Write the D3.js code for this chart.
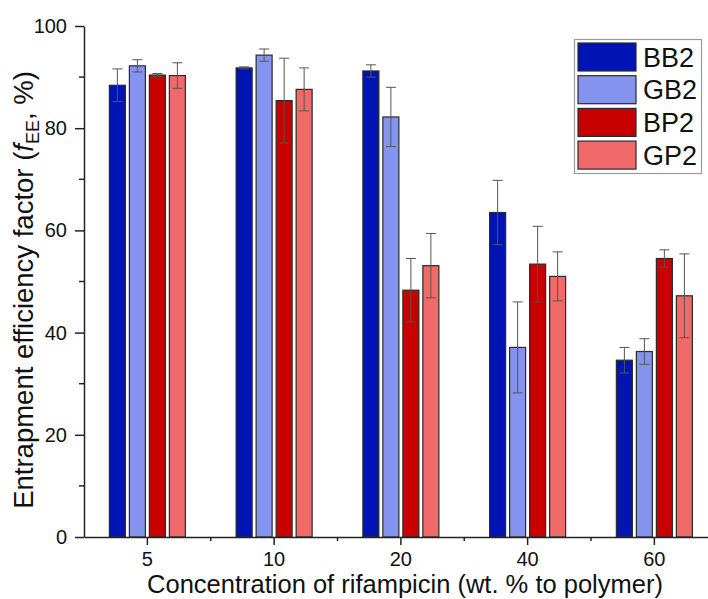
<!DOCTYPE html>
<html>
<head>
<meta charset="utf-8">
<script src="https://cdn.jsdelivr.net/npm/d3@7"></script>
<style>
  html, body { margin: 0; padding: 0; background: #fff; }
  svg { display: block; font-family: "Liberation Sans", Arial, sans-serif; }
</style>
</head>
<body>
<svg id="chart" width="708" height="599"></svg>
<script>
// Rifampicin concentration groups (wt. % to polymer)
const categories = ["5", "10", "20", "40", "60"];
const seriesNames = ["BB2", "GB2", "BP2", "GP2"];
const seriesColors = ["#0014b4", "#8494ee", "#c80000", "#f06a6a"];

// Entrapment efficiency factor (%) per series, one value per concentration
const bb2 = [88.4, 91.8, 91.2, 63.5, 34.6];
const gb2 = [92.2, 94.3, 82.2, 37.1, 36.3];
const bp2 = [90.4, 85.4, 48.3, 53.4, 54.5];
const gp2 = [90.3, 87.6, 53.1, 51.0, 47.2];

// Standard deviations
const bb2Err = [3.2, 0.2, 1.2, 6.3, 2.5];
const gb2Err = [1.2, 1.2, 5.8, 8.9, 2.5];
const bp2Err = [0.3, 8.3, 6.2, 7.4, 1.7];
const gp2Err = [2.5, 4.2, 6.3, 4.8, 8.2];

const yTicks = [0, 20, 40, 60, 80, 100];
const yMinorTicks = [10, 30, 50, 70, 90];

const seriesValues = [bb2, gb2, bp2, gp2];
const seriesErrors = [bb2Err, gb2Err, bp2Err, gp2Err];

const svg = d3.select("#chart");

const plotLeft = 84, plotTop = 26, plotBottom = 537;

const x = d3.scaleBand().domain(categories).range([plotLeft, 717.75]).padding(0);
const xInner = d3.scaleBand().domain(seriesNames).range([-40, 40])
  .paddingInner(0.2).paddingOuter(0.1);
const y = d3.scaleLinear().domain([0, 100]).range([plotBottom, plotTop]);

// Bars
const groups = svg.append("g").selectAll("g")
  .data(categories)
  .join("g")
  .attr("transform", d => `translate(${x(d) + x.bandwidth() / 2},0)`);

groups.each(function(cat, ci) {
  const g = d3.select(this);
  seriesNames.forEach((s, si) => {
    const v = seriesValues[si][ci];
    g.append("rect")
      .attr("x", xInner(s))
      .attr("y", y(v))
      .attr("width", xInner.bandwidth())
      .attr("height", y(0) - y(v))
      .attr("fill", seriesColors[si])
      .attr("stroke", "#2a2a2a")
      .attr("stroke-width", 1.2);
  });
});

// Error bars
groups.each(function(cat, ci) {
  const g = d3.select(this);
  seriesNames.forEach((s, si) => {
    const v = seriesValues[si][ci];
    const e = seriesErrors[si][ci];
    const cx = xInner(s) + xInner.bandwidth() / 2;
    const eb = g.append("g").attr("stroke", "#555").attr("stroke-width", 1).attr("fill", "none");
    eb.append("line").attr("x1", cx).attr("x2", cx).attr("y1", y(v + e)).attr("y2", y(v - e));
    eb.append("line").attr("x1", cx - 5).attr("x2", cx + 5).attr("y1", y(v + e)).attr("y2", y(v + e));
    eb.append("line").attr("x1", cx - 5).attr("x2", cx + 5).attr("y1", y(v - e)).attr("y2", y(v - e));
  });
});

// Y axis
const yAxis = svg.append("g").attr("transform", `translate(${plotLeft},0)`)
  .call(d3.axisLeft(y).tickValues(yTicks).tickSize(9).tickPadding(8).tickSizeOuter(0));
yAxis.selectAll("text").attr("font-size", 20).attr("fill", "#111")
  .attr("font-family", "'Liberation Sans', Arial, sans-serif");
yAxis.select(".domain").attr("stroke", "#222").attr("stroke-width", 1.5);
yAxis.selectAll(".tick line").attr("stroke", "#222").attr("stroke-width", 1.5);
svg.append("g").selectAll("line").data(yMinorTicks).join("line")
  .attr("x1", plotLeft - 5).attr("x2", plotLeft)
  .attr("y1", d => y(d)).attr("y2", d => y(d))
  .attr("stroke", "#222").attr("stroke-width", 1.5);

// X axis
const xAxis = svg.append("g").attr("transform", `translate(0,${plotBottom})`)
  .call(d3.axisBottom(x).tickSize(8).tickPadding(7).tickSizeOuter(0));
xAxis.selectAll("text").attr("font-size", 20).attr("fill", "#111")
  .attr("font-family", "'Liberation Sans', Arial, sans-serif");
xAxis.select(".domain").attr("stroke", "#222").attr("stroke-width", 1.5);
xAxis.selectAll(".tick line").attr("stroke", "#222").attr("stroke-width", 1.5);
svg.append("g").selectAll("line").data(categories.slice(1)).join("line")
  .attr("x1", d => x(d)).attr("x2", d => x(d))
  .attr("y1", plotBottom).attr("y2", plotBottom + 4)
  .attr("stroke", "#222").attr("stroke-width", 1.5);

// Axis titles
svg.append("text")
  .attr("x", 405).attr("y", 593)
  .attr("text-anchor", "middle")
  .attr("font-size", 25.5).attr("fill", "#111")
  .text("Concentration of rifampicin (wt. % to polymer)");

const yTitle = svg.append("text")
  .attr("transform", "translate(33,290) rotate(-90)")
  .attr("text-anchor", "middle")
  .attr("font-size", 27.5).attr("fill", "#111");
yTitle.append("tspan").text("Entrapment efficiency factor (");
yTitle.append("tspan").attr("font-style", "italic").text("f");
yTitle.append("tspan").attr("font-size", 18).attr("dy", 6).text("EE");
yTitle.append("tspan").attr("dy", -6).text(", %)");

// Legend
const legend = svg.append("g");
legend.append("rect")
  .attr("x", 574.5).attr("y", 39.5).attr("width", 127).attr("height", 134)
  .attr("fill", "#fff").attr("stroke", "#999").attr("stroke-width", 1.2);
seriesNames.forEach((s, i) => {
  const ly = 43 + i * 32.7;
  legend.append("rect")
    .attr("x", 578).attr("y", ly).attr("width", 58).attr("height", 28)
    .attr("fill", seriesColors[i]).attr("stroke", "#2a2a2a").attr("stroke-width", 1.2);
  legend.append("text")
    .attr("x", 643).attr("y", ly + 14).attr("dy", "0.36em")
    .attr("font-size", 27).attr("fill", "#111")
    .text(s);
});
</script>
</body>
</html>
